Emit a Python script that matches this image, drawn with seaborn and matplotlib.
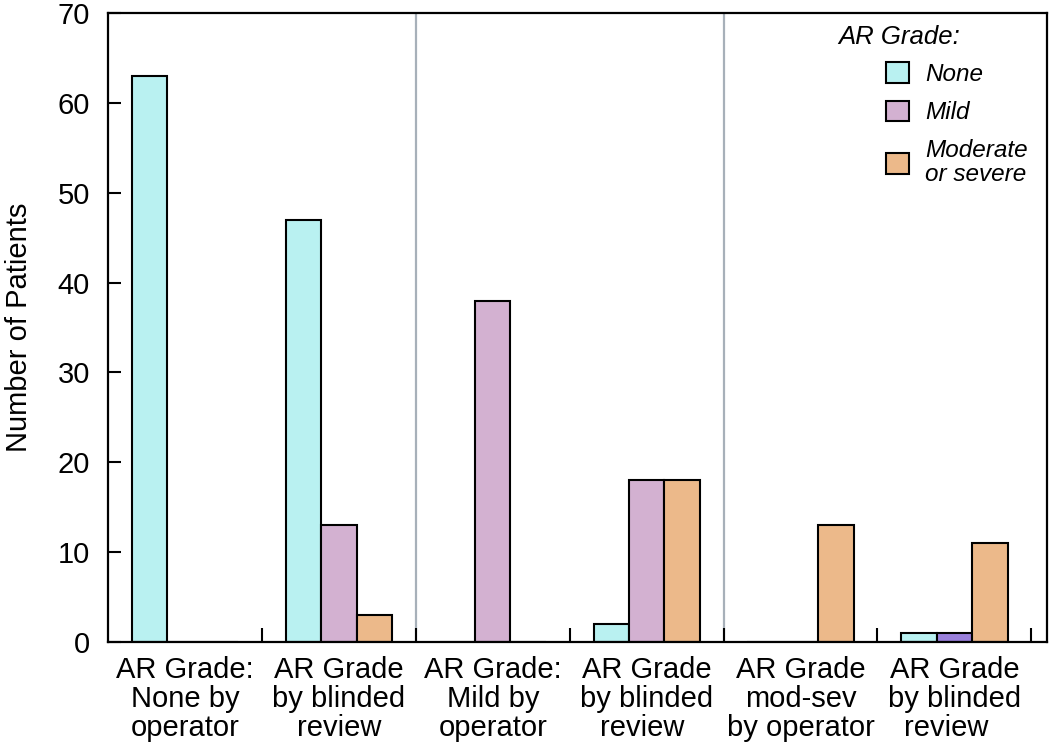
import pandas as pd
import seaborn as sns
import matplotlib.pyplot as plt
from matplotlib.patches import Patch

categories = [
    "AR Grade:\nNone by\noperator",
    "AR Grade\nby blinded\nreview",
    "AR Grade:\nMild by\noperator",
    "AR Grade\nby blinded\nreview ",
    "AR Grade\nmod-sev\nby operator",
    "AR Grade\nby blinded\nreview  ",
]
grades = ["None", "Mild", "Moderate\nor severe"]
none_counts = [63, 47, 0, 2, 0, 1]
mild_counts = [0, 13, 38, 18, 0, 1]
mod_counts = [0, 3, 0, 18, 13, 11]

colors = ["#b9f1f1", "#d3b1d1", "#ecb98a"]
highlight = "#9a80dc"

rows = []
for g, vals in zip(grades, [none_counts, mild_counts, mod_counts]):
    for c, v in zip(categories, vals):
        rows.append({"group": c, "grade": g, "count": v})
df = pd.DataFrame(rows)

sns.set_theme(style="white")
plt.rcParams["font.family"] = ["Liberation Sans", "DejaVu Sans"]
plt.rcParams["text.color"] = "black"
plt.rcParams["axes.labelcolor"] = "black"
plt.rcParams["xtick.color"] = "black"
plt.rcParams["ytick.color"] = "black"

fig = plt.figure(figsize=(10.5, 7.44), dpi=100)
ax = fig.add_axes([0.1029, 0.137, 0.894, 0.8455])

sns.barplot(data=df, x="group", y="count", hue="grade", order=categories,
            hue_order=grades, palette=colors, saturation=1, edgecolor="black",
            linewidth=1.5, width=0.69, legend=False, ax=ax)

# darker mild bar in the last group
ax.containers[1][5].set_facecolor(highlight)

for xv in [1.5, 3.5]:
    ax.axvline(xv, color="#a7b0b9", linewidth=1.6, zorder=0)

ax.set_xlim(-0.5, 5.6)
ax.set_ylim(0, 70)
ax.set_yticks(range(0, 71, 10))
ax.set_xticks(range(6))
ax.set_xticklabels(categories, fontsize=21)
for lab in ax.get_xticklabels():
    lab.set_linespacing(1.05)
ax.set_xticks([i + 0.5 for i in range(6)], minor=True)
ax.tick_params(axis="x", which="major", length=0, pad=10)
ax.tick_params(axis="x", which="minor", direction="in", length=10, width=1.5,
               color="black", bottom=True)
ax.tick_params(axis="y", direction="in", length=9, width=1.5, labelsize=21,
               pad=13, color="black", left=True)

for s in ax.spines.values():
    s.set_color("black")
    s.set_linewidth(1.6)

ax.set_xlabel("")
ax.set_ylabel("Number of Patients", fontsize=21, labelpad=18)

handles = [Patch(facecolor=c, edgecolor="black", linewidth=1.5) for c in colors]
leg = ax.legend(handles, grades, loc="upper left", bbox_to_anchor=(0.829, 0.922),
                frameon=False, prop={"size": 17.5, "style": "italic"},
                handlelength=0.95, handleheight=0.95, handletextpad=0.66,
                labelspacing=0.6, borderpad=0, borderaxespad=0)
for t in leg.get_texts():
    t.set_linespacing(1.05)
    t.set_color("black")
ax.text(0.7774, 0.962, "AR Grade:", transform=ax.transAxes, fontsize=18.5,
        style="italic", va="center", ha="left")

fig.savefig("out.png", dpi=100)
